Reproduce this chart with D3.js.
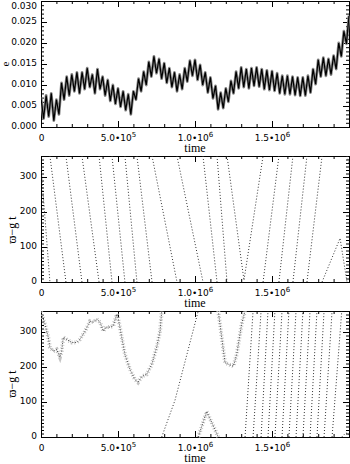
<!DOCTYPE html>
<html>
<head>
<meta charset="utf-8">
<script src="https://cdn.jsdelivr.net/npm/d3@7"></script>
<style>
  body { margin: 0; background: #fff; }
  text { fill: #000; }
</style>
</head>
<body>
<svg id="chart" width="350" height="464"></svg>
<script>
// --- values ---
const tMax = 2e6;
const xTicks = [0, 5e5, 1e6, 1.5e6];
const xTickLabels = [["0", ""], ["5.0•10", "5"], ["1.0•10", "6"], ["1.5•10", "6"]];
const eTicks = [0, 0.005, 0.010, 0.015, 0.020, 0.025, 0.030];
const eTickLabels = ["0.000", "0.005", "0.010", "0.015", "0.020", "0.025", "0.030"];
const angleTicks = [0, 100, 200, 300];

// eccentricity, sampled every 2e6/120 (zigzag of highs and lows)
const eValues = [
  0.0070, 0.0020, 0.0075, 0.0025, 0.0080, 0.0015, 0.0065, 0.0030, 0.0105, 0.0065,
  0.0120, 0.0075, 0.0125, 0.0085, 0.0130, 0.0080, 0.0130, 0.0090, 0.0140, 0.0095,
  0.0125, 0.0080, 0.0138, 0.0090, 0.0120, 0.0075, 0.0112, 0.0062, 0.0100, 0.0055,
  0.0092, 0.0048, 0.0085, 0.0040, 0.0078, 0.0030, 0.0085, 0.0065, 0.0115, 0.0085,
  0.0132, 0.0100, 0.0155, 0.0120, 0.0168, 0.0128, 0.0162, 0.0115, 0.0152, 0.0105,
  0.0140, 0.0095, 0.0130, 0.0085, 0.0125, 0.0090, 0.0140, 0.0108, 0.0158, 0.0122,
  0.0160, 0.0112, 0.0148, 0.0100, 0.0130, 0.0082, 0.0118, 0.0068, 0.0098, 0.0042,
  0.0082, 0.0045, 0.0092, 0.0060, 0.0110, 0.0080, 0.0132, 0.0092, 0.0142, 0.0095,
  0.0138, 0.0092, 0.0140, 0.0098, 0.0142, 0.0096, 0.0138, 0.0090, 0.0135, 0.0088,
  0.0133, 0.0086, 0.0128, 0.0080, 0.0122, 0.0078, 0.0122, 0.0078, 0.0120, 0.0076,
  0.0118, 0.0074, 0.0118, 0.0075, 0.0122, 0.0082, 0.0138, 0.0102, 0.0160, 0.0120,
  0.0165, 0.0122, 0.0162, 0.0125, 0.0170, 0.0138, 0.0200, 0.0168, 0.0228, 0.0198,
  0.0265
];

// panel 2 : angle tracks, [time in 1e5, degrees]
const p2Lines = [
  [[0, 330], [0.58, 0]],
  [[0.58, 360], [1.62, 0]],
  [[1.62, 360], [2.66, 0]],
  [[2.66, 360], [3.77, 0]],
  [[3.77, 360], [4.61, 0]],
  [[4.61, 360], [5.45, 0]],
  [[5.45, 360], [6.23, 0]],
  [[6.23, 360], [7.21, 0]],
  [[7.21, 360], [8.83, 0]],
  [[8.83, 360], [10.52, 0]],
  [[10.52, 360], [11.43, 0]],
  [[11.43, 360], [12.08, 0]],
  [[12.08, 360], [13.18, 5], [14.42, 360]],
  [[14.42, 0], [15.45, 360]],
  [[15.45, 0], [16.36, 360]],
  [[16.36, 0], [17.27, 360]],
  [[17.27, 0], [18.25, 360]],
  [[18.25, 0], [19.42, 125], [19.87, 0]],
  [[19.87, 360], [20, 340]]
];

// panel 3 : noisy part of the track (drawn with a grey halo)
const p3Noisy = [
  [[0, 358], [0.26, 322], [0.47, 285], [0.58, 256], [0.80, 245], [1.02, 250], [1.23, 228],
   [1.34, 245], [1.45, 285], [1.67, 279], [1.99, 270], [2.32, 270], [2.53, 279], [2.86, 302],
   [3.18, 331], [3.40, 328], [3.62, 337], [3.83, 328], [4.05, 302], [4.22, 314], [4.48, 314],
   [4.69, 317], [4.92, 351], [5.00, 343], [5.24, 285], [5.45, 236], [5.78, 193], [6.10, 164],
   [6.30, 156], [6.54, 173], [6.86, 179], [7.19, 207], [7.51, 256], [7.73, 302], [7.84, 360]],
  [[10.21, 0], [10.76, 73], [11.51, 0]],
  [[11.51, 360], [11.95, 212], [12.49, 202], [12.71, 236], [13.03, 323], [13.25, 360]]
];
// panel 3 : clean tracks
const p3Lines = [
  [[7.84, 0], [8.70, 105], [10.21, 360]],
  [[13.25, 0], [13.77, 360]],
  [[13.77, 0], [14.29, 360]],
  [[14.29, 0], [14.74, 360]],
  [[14.74, 0], [15.19, 360]],
  [[15.19, 0], [15.65, 360]],
  [[15.65, 0], [16.10, 360]],
  [[16.10, 0], [16.56, 360]],
  [[16.56, 0], [17.01, 360]],
  [[17.01, 0], [17.47, 360]],
  [[17.47, 0], [17.92, 360]],
  [[17.92, 0], [18.38, 360]],
  [[18.38, 0], [18.90, 360]],
  [[18.90, 0], [19.53, 360]],
  [[19.53, 0], [19.8, 12], [20, 6]]
];

// --- drawing ---
const svg = d3.select("#chart");
const x = d3.scaleLinear().domain([0, tMax]).range([41, 349]);

const panels = [
  { top: 1, bottom: 127, domain: [0, 0.03], ticks: eTicks, labels: eTickLabels, minor: 0.001, title: "e", titleY: 64 },
  { top: 156, bottom: 282, domain: [0, 360], ticks: angleTicks, labels: angleTicks.map(String), minor: 10, title: "ϖ−g t", titleY: 230 },
  { top: 311, bottom: 437, domain: [0, 360], ticks: angleTicks, labels: angleTicks.map(String), minor: 10, title: "ϖ−g t", titleY: 384 }
];

panels.forEach((p, i) => {
  p.y = d3.scaleLinear().domain(p.domain).range([p.bottom, p.top]);
  const g = svg.append("g");

  // clip
  svg.append("clipPath").attr("id", "clip" + i)
    .append("rect").attr("x", 41).attr("y", p.top).attr("width", 309).attr("height", p.bottom - p.top + 1);

  // minor + major ticks on all four sides, pointing inward
  const xMinor = d3.range(0, tMax + 1, 1e5);
  const yMinor = d3.range(p.domain[0], p.domain[1] + p.minor / 2, p.minor);
  const axes = [
    [d3.axisBottom(x), `translate(0,${p.bottom})`, xMinor, xTicks],
    [d3.axisTop(x), `translate(0,${p.top})`, xMinor, xTicks],
    [d3.axisLeft(p.y), `translate(41,0)`, yMinor, p.ticks],
    [d3.axisRight(p.y), `translate(349,0)`, yMinor, p.ticks]
  ];
  axes.forEach(([ax, tr, minor, major]) => {
    g.append("g").attr("transform", tr)
      .call(ax.tickValues(minor).tickSize(-3).tickSizeOuter(0).tickFormat(""))
      .call(s => s.select(".domain").remove());
    g.append("g").attr("transform", tr)
      .call(ax.tickValues(major).tickSize(-6).tickSizeOuter(0).tickFormat(""))
      .call(s => s.select(".domain").remove());
  });
  g.selectAll(".tick line").attr("stroke", "#000");

  // frame
  g.append("rect")
    .attr("x", 41.5).attr("y", p.top + 0.5)
    .attr("width", 308).attr("height", p.bottom - p.top)
    .attr("fill", "none").attr("stroke", "#000");

  // y tick labels (top one pushed down so it stays on the page)
  g.selectAll(".ylab").data(p.ticks).enter().append("text")
    .attr("x", 37).attr("y", (d) => Math.max(p.y(d) + 2, 9))
    .attr("text-anchor", "end")
    .attr("font-family", "DejaVu Sans").attr("font-size", 9)
    .text((d, k) => p.labels[k]);

  // x tick labels with superscript exponent
  const xl = g.selectAll(".xlab").data(xTicks).enter().append("text")
    .attr("x", (d) => x(d) + 0.5).attr("y", p.bottom + 13.5)
    .attr("text-anchor", "middle")
    .attr("font-family", "DejaVu Sans").attr("font-size", 9);
  xl.append("tspan").text((d, k) => xTickLabels[k][0]);
  xl.append("tspan").attr("dy", -4).attr("font-size", 7).text((d, k) => xTickLabels[k][1]);

  g.append("text")
    .attr("x", 195).attr("y", p.bottom + 25)
    .attr("text-anchor", "middle")
    .attr("font-family", "Liberation Serif").attr("font-size", 12)
    .text("time");

  g.append("text")
    .attr("transform", `translate(${i === 0 ? 9 : 16},${p.titleY}) rotate(-90)`)
    .attr("text-anchor", "middle")
    .attr("font-family", "Liberation Serif").attr("font-size", i === 0 ? 11 : 12)
    .text(p.title);
});

// panel 1 : eccentricity
const p1 = panels[0];
const eLine = d3.line().x((d, k) => x(k * tMax / (eValues.length - 1))).y((d) => p1.y(d));
const plot1 = svg.append("g").attr("clip-path", "url(#clip0)");
plot1.append("path").datum(eValues).attr("d", eLine)
  .attr("fill", "none").attr("stroke", "#8a8a8a").attr("stroke-width", 2.8).attr("stroke-linejoin", "round");
plot1.append("path").datum(eValues).attr("d", eLine)
  .attr("fill", "none").attr("stroke", "#000").attr("stroke-width", 1.2);

// angle panels
function angleLine(p) {
  return d3.line().x((d) => x(d[0] * 1e5)).y((d) => p.y(d[1]));
}

const plot2 = svg.append("g").attr("clip-path", "url(#clip1)");
plot2.selectAll("path").data(p2Lines).enter().append("path")
  .attr("d", angleLine(panels[1]))
  .attr("fill", "none").attr("stroke", "#333").attr("stroke-width", 1)
  .attr("stroke-dasharray", "1,2");

const plot3 = svg.append("g").attr("clip-path", "url(#clip2)");
plot3.selectAll(".halo").data(p3Noisy).enter().append("path")
  .attr("d", angleLine(panels[2]))
  .attr("fill", "none").attr("stroke", "#c4c4c4").attr("stroke-width", 4)
  .attr("stroke-dasharray", "1,2");
plot3.selectAll(".core").data(p3Noisy).enter().append("path")
  .attr("d", angleLine(panels[2]))
  .attr("fill", "none").attr("stroke", "#444").attr("stroke-width", 1)
  .attr("stroke-dasharray", "1,1.5");
plot3.selectAll(".trk").data(p3Lines).enter().append("path")
  .attr("d", angleLine(panels[2]))
  .attr("fill", "none").attr("stroke", "#333").attr("stroke-width", 1)
  .attr("stroke-dasharray", "1,2");
</script>
</body>
</html>
